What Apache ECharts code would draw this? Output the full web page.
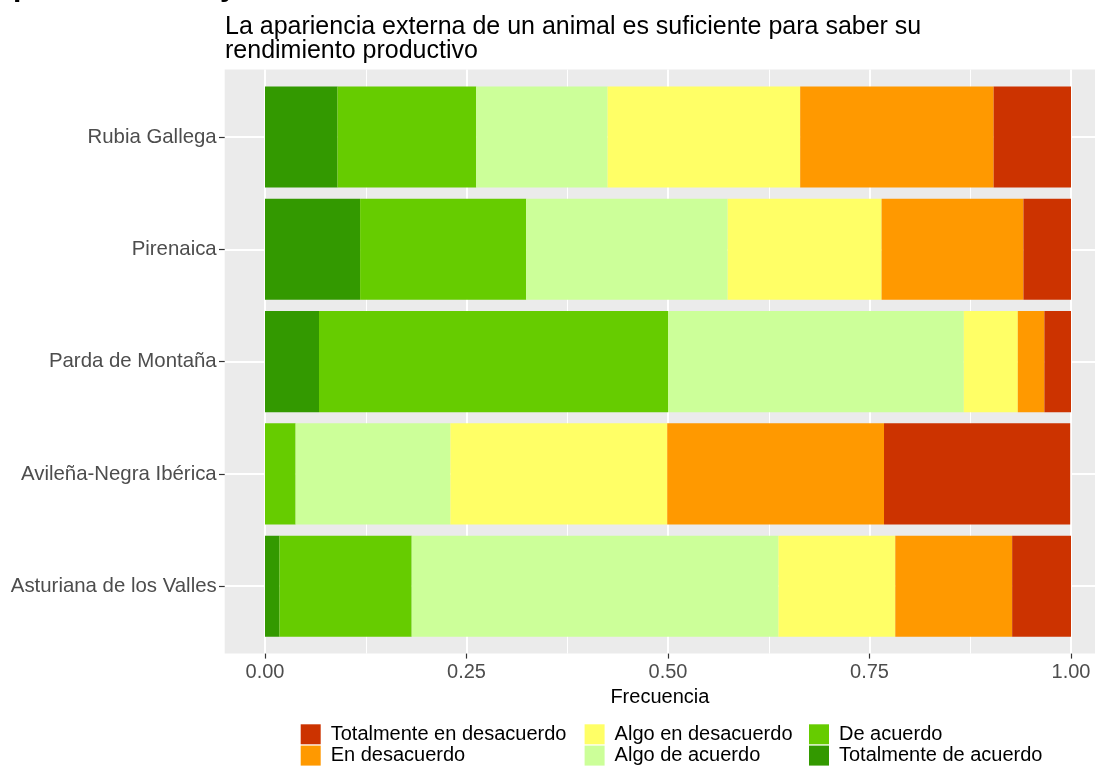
<!DOCTYPE html>
<html>
<head>
<meta charset="utf-8">
<script src="https://cdn.jsdelivr.net/npm/echarts@6/dist/echarts.min.js"></script>
<style>html,body{margin:0;padding:0;background:#fff;}#c{width:1095px;height:767px;}</style>
</head>
<body>
<div id="c"></div>
<script>
// Categories (bottom to top)
const categories = ['Asturiana de los Valles', 'Avileña-Negra Ibérica', 'Parda de Montaña', 'Pirenaica', 'Rubia Gallega'];
// Series values (proportions), left to right in each bar
const totalmenteDeAcuerdo = [0.018, 0.000, 0.067, 0.118, 0.090];
const deAcuerdo = [0.164, 0.038, 0.433, 0.206, 0.172];
const algoDeAcuerdo = [0.455, 0.192, 0.367, 0.250, 0.163];
const algoEnDesacuerdo = [0.145, 0.269, 0.067, 0.191, 0.239];
const enDesacuerdo = [0.145, 0.269, 0.033, 0.176, 0.240];
const totalmenteEnDesacuerdo = [0.073, 0.231, 0.033, 0.059, 0.096];
const xTicks = [0, 0.25, 0.5, 0.75, 1];
const xMinorTicks = [0.125, 0.375, 0.625, 0.875];
const seriesNames = ['Totalmente de acuerdo', 'De acuerdo', 'Algo de acuerdo', 'Algo en desacuerdo', 'En desacuerdo', 'Totalmente en desacuerdo'];
const seriesColors = ['#339900', '#66CC00', '#CCFF99', '#FFFF66', '#FF9900', '#CC3300'];
const seriesData = [totalmenteDeAcuerdo, deAcuerdo, algoDeAcuerdo, algoEnDesacuerdo, enDesacuerdo, totalmenteEnDesacuerdo];

const FONT = "'Liberation Sans', Arial, sans-serif";
// panel geometry
const T = 69.6, H = 584, L = 224.7, UNIT = 806;
const band = H / 5.2;
const xMin = -0.05, xMax = -0.05 + (1095 - L) / UNIT;   // panel is cut at the right edge of the picture

const chart = echarts.init(document.getElementById('c'), null, {renderer: 'canvas'});
const legendStyle = {fontSize: 20, color: '#000', fontFamily: FONT, padding: [0, 0, 0, 5]};
function legendAt(left, names) {
  return {orient: 'vertical', left: left, top: 724.3, itemWidth: 20, itemHeight: 20, itemGap: 1.3,
    icon: 'rect', padding: 0, textStyle: legendStyle, data: names, selectedMode: false};
}
chart.setOption({
  backgroundColor: '#fff',
  animation: false,
  title: {
    text: 'La apariencia externa de un animal es suficiente para saber su\nrendimiento productivo',
    left: 225, top: 15, padding: 0,
    textStyle: {fontSize: 25, fontWeight: 'normal', color: '#000', fontFamily: FONT, lineHeight: 24}
  },
  graphic: [
    {type: 'text', left: 13, top: -27, style: {text: 'p', font: 'bold 30px ' + FONT, fill: '#000'}},
    {type: 'text', left: 220, top: -27, style: {text: 'y', font: 'bold 30px ' + FONT, fill: '#000'}}
  ],
  legend: [
    legendAt(300.7, ['Totalmente en desacuerdo', 'En desacuerdo']),
    legendAt(584.6, ['Algo en desacuerdo', 'Algo de acuerdo']),
    legendAt(809, ['De acuerdo', 'Totalmente de acuerdo'])
  ],
  grid: [
    {left: L, top: T, width: 1095 - L, height: H, show: true, backgroundColor: '#EBEBEB', borderWidth: 0},
    {left: L + UNIT * 0.05, top: T + band * 0.1, width: UNIT, height: band * 5}
  ],
  xAxis: [
    {type: 'value', gridIndex: 0, min: xMin, max: xMax, position: 'bottom',
      axisLine: {show: false, onZero: false},
      axisTick: {show: true, customValues: xTicks, length: 5, lineStyle: {color: '#333', width: 1.2}},
      axisLabel: {customValues: xTicks, formatter: v => v.toFixed(2), fontSize: 20, color: '#4D4D4D', fontFamily: FONT, margin: 9},
      splitLine: {show: true, lineStyle: {color: '#fff', width: 2}},
      name: 'Frecuencia', nameLocation: 'middle', nameGap: 26,
      nameTextStyle: {fontSize: 20, color: '#000', fontFamily: FONT}
    },
    {type: 'value', gridIndex: 0, min: xMin, max: xMax, position: 'top',
      axisLine: {show: false, onZero: false}, axisTick: {show: false, customValues: xMinorTicks},
      axisLabel: {show: false, customValues: xMinorTicks},
      splitLine: {show: true, lineStyle: {color: '#fff', width: 1}}
    },
    {type: 'value', gridIndex: 1, min: 0, max: 1, show: false}
  ],
  yAxis: [
    {type: 'value', gridIndex: 0, min: 0.4, max: 5.6, position: 'left',
      axisLine: {show: false, onZero: false},
      axisTick: {show: true, customValues: [1, 2, 3, 4, 5], length: 5.7, lineStyle: {color: '#333', width: 1.2}},
      axisLabel: {customValues: [1, 2, 3, 4, 5], formatter: v => categories[Math.round(v) - 1], fontSize: 20.4, color: '#4D4D4D', fontFamily: FONT, margin: 8},
      splitLine: {show: true, lineStyle: {color: '#fff', width: 2}}
    },
    {type: 'category', gridIndex: 1, data: categories, show: false}
  ],
  series: seriesNames.map((name, i) => ({
    name: name, type: 'bar', stack: 'total', xAxisIndex: 2, yAxisIndex: 1,
    barWidth: '90%', data: seriesData[i], itemStyle: {color: seriesColors[i]}
  }))
});
</script>
</body>
</html>
